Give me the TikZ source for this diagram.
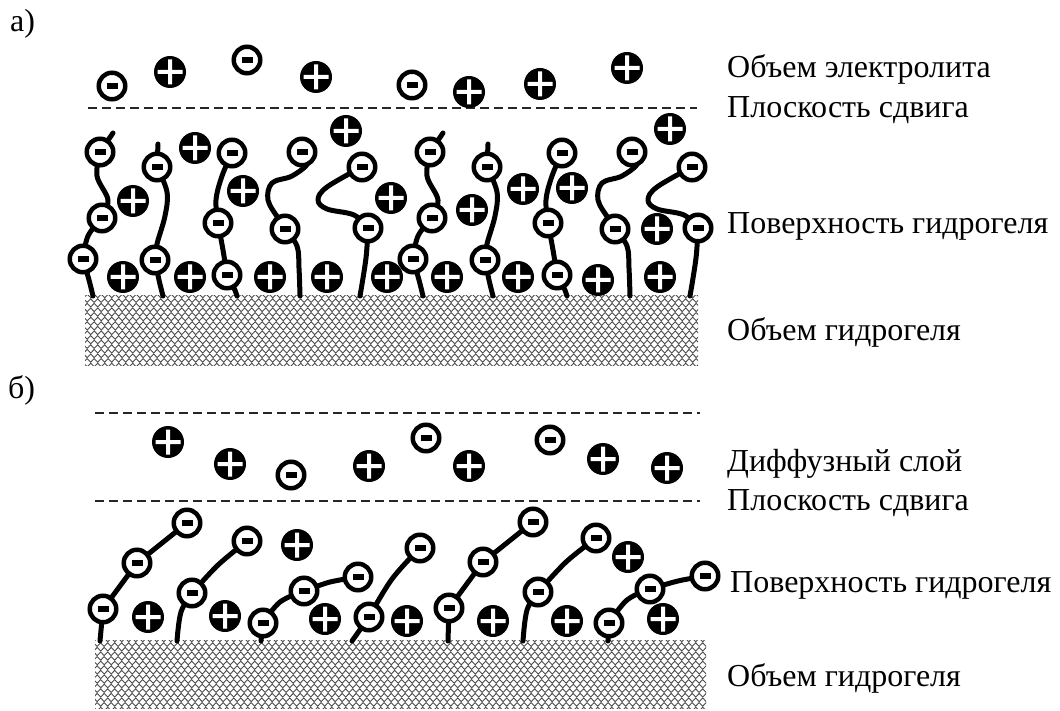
\documentclass[tikz,border=0pt]{standalone}
\usepackage{fontspec}
\setmainfont{Liberation Serif}
\usetikzlibrary{decorations.pathmorphing}
\pgfdeclarelayer{background}
\pgfsetlayers{background,main}

\begin{document}
\begin{tikzpicture}[x=1pt,y=-1pt,
  anion/.style={circle,draw=black,line width=4.5,fill=white,minimum size=26.5,inner sep=0,
    path picture={\fill[black] ([xshift=-5.5pt,yshift=-3pt]path picture bounding box.center)
      rectangle ([xshift=5.5pt,yshift=3pt]path picture bounding box.center);}},
  cation/.style={circle,fill=black,minimum size=32,inner sep=0,
    path picture={\fill[white]
      ([xshift=-12.5pt,yshift=-2pt]path picture bounding box.center) rectangle ([xshift=12.5pt,yshift=2pt]path picture bounding box.center)
      ([xshift=-2pt,yshift=-12.5pt]path picture bounding box.center) rectangle ([xshift=2pt,yshift=12.5pt]path picture bounding box.center);}},
  chain/.style={line width=5,line cap=round,line join=round},
  shear/.style={line width=2,dash pattern=on 9pt off 5pt,black!85},
  lbl/.style={anchor=base west,inner sep=0,font=\fontsize{32}{38}\selectfont},
  weave/.style={black!70,line width=0.9,decorate,decoration={snake,amplitude=1.8pt,segment length=7pt}}
]
\useasboundingbox (0,0) rectangle (1060,711);

% ---------- labels ----------
\node[lbl] (ta) at (10,32) {а)};
\node[lbl] (tb) at (8,398) {б)};
\node[lbl] (l1) at (727,78) {Объем электролита};
\node[lbl] (l2) at (727,118) {Плоскость сдвига};
\node[lbl] (l3) at (727,234) {Поверхность гидрогеля};
\node[lbl] (l4) at (727,340) {Объем гидрогеля};
\node[lbl] (l5) at (727,471) {Диффузный слой};
\node[lbl] (l6) at (727,510) {Плоскость сдвига};
\node[lbl] (l7) at (730,592) {Поверхность гидрогеля};
\node[lbl] (l8) at (727,686) {Объем гидрогеля};

% ---------- shear planes ----------
\coordinate (sa1) at (88,108);  \coordinate (sa2) at (697,108);
\coordinate (sb1) at (95,413);  \coordinate (sb2) at (700,413);
\coordinate (sc1) at (95,501);  \coordinate (sc2) at (700,501);
\draw[shear] (sa1) -- (sa2);
\draw[shear] (sb1) -- (sb2);
\draw[shear] (sc1) -- (sc2);

% ---------- gel bulk ----------
\begin{pgfonlayer}{background}
\begin{scope}
  \clip (85,296) rectangle (698,365);
  \foreach \r in {0,...,16}{
    \pgfmathsetmacro\xs{78-mod(\r,2)*3.5}
    \draw[weave] (\xs,296+\r*4.6) -- (710,296+\r*4.6);
  }
\end{scope}
\begin{scope}
  \clip (95,640) rectangle (706,708);
  \foreach \r in {0,...,16}{
    \pgfmathsetmacro\xs{88-mod(\r,2)*3.5}
    \draw[weave] (\xs,640+\r*4.6) -- (715,640+\r*4.6);
  }
\end{scope}
\end{pgfonlayer}

% ---------- a) electrolyte bulk ----------
\node[anion]  (ea1) at (112,86) {};
\node[cation] (ec1) at (170,72) {};
\node[anion]  (ea2) at (247,60) {};
\node[cation] (ec2) at (316,77) {};
\node[anion]  (ea3) at (412,85) {};
\node[cation] (ec3) at (469,92) {};
\node[cation] (ec4) at (540,84) {};
\node[cation] (ec5) at (627,68) {};

% ---------- a) hydrogel surface: two identical groups of chains ----------
\foreach \s/\g in {0/L,330/R}{
  \begin{scope}[xshift=\s]
    \node[anion] (\g11) at (100,152) {};
    \node[anion] (\g12) at (102,218) {};
    \node[anion] (\g13) at (83,259) {};
    \coordinate (\g1t) at (113,133);
    \coordinate (\g1b) at (93,296);
    \node[anion] (\g21) at (157,167) {};
    \node[anion] (\g22) at (155,260) {};
    \coordinate (\g2t) at (158,144);
    \coordinate (\g2b) at (163,296);
    \node[anion] (\g31) at (232,153) {};
    \node[anion] (\g32) at (218,223) {};
    \node[anion] (\g33) at (227,275) {};
    \coordinate (\g3b) at (237,296);
    \node[anion] (\g41) at (302,152) {};
    \node[anion] (\g42) at (285,229) {};
    \coordinate (\g4b) at (300,296);
    \node[anion] (\g51) at (362,167) {};
    \node[anion] (\g52) at (368,228) {};
    \coordinate (\g5b) at (360,296);
  \end{scope}
  \begin{pgfonlayer}{background}
    \draw[chain] (\g11.center) -- (\g1t);
    \draw[chain] plot[smooth,tension=0.6] coordinates {(\g11.center) ([xshift=-3pt]\g11.center |- 0,176) ([xshift=6pt]\g12.center |- 0,200) (\g12.center)};
    \draw[chain] plot[smooth,tension=0.6] coordinates {(\g12.center) ([xshift=-14pt]\g12.center |- 0,236) (\g13.center)};
    \draw[chain] plot[smooth,tension=0.6] coordinates {(\g13.center) ([xshift=6pt]\g13.center |- 0,280) (\g1b)};
    \draw[chain] (\g21.center) -- (\g2t);
    \draw[chain] plot[smooth,tension=0.6] coordinates {(\g21.center) ([xshift=10pt]\g21.center |- 0,192) ([xshift=8pt]\g21.center |- 0,216) ([xshift=2pt]\g22.center |- 0,244) (\g22.center)};
    \draw[chain] plot[smooth,tension=0.6] coordinates {(\g22.center) ([xshift=4pt]\g22.center |- 0,280) (\g2b)};
    \draw[chain] plot[smooth,tension=0.6] coordinates {(\g31.center) ([xshift=-10pt]\g31.center |- 0,176) ([xshift=-2pt]\g32.center |- 0,200) (\g32.center)};
    \draw[chain] plot[smooth,tension=0.6] coordinates {(\g32.center) ([xshift=5pt]\g32.center |- 0,250) (\g33.center)};
    \draw[chain] plot[smooth,tension=0.6] coordinates {(\g33.center) ([xshift=7pt]\g33.center |- 0,288) (\g3b)};
    \draw[chain] plot[smooth,tension=0.6] coordinates {(\g41.center) ([xshift=6pt]\g41.center |- 0,163) ([xshift=-10pt]\g41.center |- 0,176) ([xshift=-30pt]\g41.center |- 0,183) ([xshift=-17pt]\g42.center |- 0,200) ([xshift=-7pt]\g42.center |- 0,218) (\g42.center)};
    \draw[chain] plot[smooth,tension=0.6] coordinates {(\g42.center) ([xshift=12pt]\g42.center |- 0,246) ([xshift=14pt]\g42.center |- 0,268) (\g4b)};
    \draw[chain] plot[smooth,tension=0.6] coordinates {(\g51.center) ([xshift=-35pt]\g51.center |- 0,187) ([xshift=-44pt]\g51.center |- 0,200) ([xshift=-35pt]\g51.center |- 0,209) ([xshift=-14pt]\g52.center |- 0,215) (\g52.center)};
    \draw[chain] plot[smooth,tension=0.6] coordinates {(\g52.center) ([xshift=-2pt]\g52.center |- 0,258) (\g5b)};
  \end{pgfonlayer}
}

% counter-ions near the surface
\node[cation] (sc1) at (133,201) {};
\node[cation] (sc2) at (195,148) {};
\node[cation] (sc3) at (243,191) {};
\node[cation] (sc4) at (346,131) {};
\node[cation] (sc5) at (391,198) {};
\node[cation] (sc6) at (123,277) {};
\node[cation] (sc7) at (190,277) {};
\node[cation] (sc8) at (270,277) {};
\node[cation] (sc9) at (327,277) {};
\node[cation] (sc10) at (387,277) {};
\node[cation] (sc11) at (472,210) {};
\node[cation] (sc12) at (523,189) {};
\node[cation] (sc13) at (572,188) {};
\node[cation] (sc14) at (657,229) {};
\node[cation] (sc15) at (670,129) {};
\node[cation] (sc16) at (447,277) {};
\node[cation] (sc17) at (518,277) {};
\node[cation] (sc18) at (598,280) {};
\node[cation] (sc19) at (660,277) {};

% ---------- b) diffuse layer ----------
\node[cation] (dc1) at (168,442) {};
\node[cation] (dc2) at (230,464) {};
\node[anion]  (da1) at (291,475) {};
\node[cation] (dc3) at (369,466) {};
\node[anion]  (da2) at (426,438) {};
\node[cation] (dc4) at (469,466) {};
\node[anion]  (da3) at (550,440) {};
\node[cation] (dc5) at (603,459) {};
\node[cation] (dc6) at (667,468) {};

% ---------- b) stretched chains ----------
\node[anion] (b11) at (103,609) {};
\node[anion] (b12) at (137,563) {};
\node[anion] (b13) at (187,523) {};
\coordinate (b1b) at (100,641);
\node[anion] (b21) at (192,593) {};
\node[anion] (b22) at (247,541) {};
\coordinate (b2b) at (177,641);
\node[anion] (b31) at (263,623) {};
\node[anion] (b32) at (304,591) {};
\node[anion] (b33) at (358,577) {};
\coordinate (b3b) at (261,641);
\node[anion] (b41) at (369,617) {};
\node[anion] (b42) at (420,548) {};
\coordinate (b4b) at (352,641);
\node[anion] (b51) at (449,608) {};
\node[anion] (b52) at (483,562) {};
\node[anion] (b53) at (533,522) {};
\coordinate (b5b) at (448,641);
\node[anion] (b61) at (538,592) {};
\node[anion] (b62) at (596,538) {};
\coordinate (b6b) at (523,641);
\node[anion] (b71) at (609,623) {};
\node[anion] (b72) at (650,589) {};
\node[anion] (b73) at (705,576) {};
\coordinate (b7b) at (608,641);

\begin{pgfonlayer}{background}
  \draw[chain] (b1b) -- (b11.center) -- (b12.center) -- (b13.center);
  \draw[chain] plot[smooth,tension=0.6] coordinates {(b2b) (181,612) (b21.center)};
  \draw[chain] plot[smooth,tension=0.5] coordinates {(b21.center) (218,565) (b22.center)};
  \draw[chain] (b3b) -- (b31.center);
  \draw[chain] plot[smooth,tension=0.6] coordinates {(b31.center) (280,602) (b32.center)};
  \draw[chain] plot[smooth,tension=0.5] coordinates {(b32.center) (330,582) (b33.center)};
  \draw[chain] (b4b) -- (b41.center);
  \draw[chain] plot[smooth,tension=0.6] coordinates {(b41.center) (392,579) (b42.center)};
  \draw[chain] (b5b) -- (b51.center) -- (b52.center) -- (b53.center);
  \draw[chain] plot[smooth,tension=0.6] coordinates {(b6b) (527,610) (b61.center)};
  \draw[chain] plot[smooth,tension=0.5] coordinates {(b61.center) (566,562) (b62.center)};
  \draw[chain] (b7b) -- (b71.center);
  \draw[chain] plot[smooth,tension=0.6] coordinates {(b71.center) (627,600) (b72.center)};
  \draw[chain] plot[smooth,tension=0.5] coordinates {(b72.center) (678,581) (b73.center)};
\end{pgfonlayer}

\node[cation] (bc1) at (148,617) {};
\node[cation] (bc2) at (225,616) {};
\node[cation] (bc3) at (297,545) {};
\node[cation] (bc4) at (325,619) {};
\node[cation] (bc5) at (407,621) {};
\node[cation] (bc6) at (493,621) {};
\node[cation] (bc7) at (567,621) {};
\node[cation] (bc8) at (628,557) {};
\node[cation] (bc9) at (663,619) {};
\end{tikzpicture}
\end{document}
